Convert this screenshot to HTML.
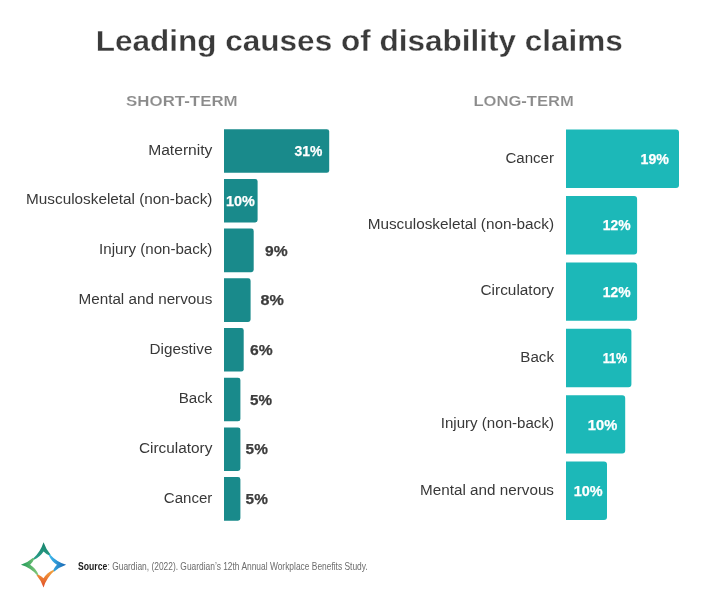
<!DOCTYPE html>
<html><head><meta charset="utf-8"><title>Leading causes of disability claims</title>
<style>
html,body{margin:0;padding:0;background:#fff;}
svg{display:block;}
text{font-family:"Liberation Sans",sans-serif;}
.t{font-weight:bold;fill:#3a3a3a;font-size:30.4px;stroke:#fff;stroke-width:0.3px;}
.h{font-weight:bold;fill:#8b8b8b;font-size:15.3px;stroke:#fff;stroke-width:0.15px;}
.l{fill:#383838;font-size:14px;text-anchor:end;}
.vw{fill:#fff;font-weight:bold;font-size:14.4px;stroke:#fff;stroke-width:0.25px;}
.vd{fill:#3c3c3c;font-weight:bold;font-size:14.4px;stroke:#3c3c3c;stroke-width:0.25px;}
.s{fill:#6c6c6c;font-size:10.3px;}
</style></head><body>
<svg width="720" height="603" viewBox="0 0 720 603">
<rect width="720" height="603" fill="#fff"/>
<text class="t" x="95.8" y="51.2" textLength="527" lengthAdjust="spacingAndGlyphs">Leading causes of disability claims</text>
<text class="h" x="126.1" y="106.1" textLength="111.6" lengthAdjust="spacingAndGlyphs">SHORT-TERM</text>
<text class="h" x="473.4" y="106.1" textLength="100.5" lengthAdjust="spacingAndGlyphs">LONG-TERM</text>
<path fill="#198a8b" d="M224 129.2H326.8a2.4 2.4 0 0 1 2.4 2.4V170.4a2.4 2.4 0 0 1 -2.4 2.4H224z"/>
<text class="l" x="212.4" y="154.7" textLength="64.2" lengthAdjust="spacingAndGlyphs">Maternity</text>
<text class="vw" x="294.5" y="156.2" textLength="27.8" lengthAdjust="spacingAndGlyphs">31%</text>
<path fill="#198a8b" d="M224 178.9H255.2a2.4 2.4 0 0 1 2.4 2.4V220.1a2.4 2.4 0 0 1 -2.4 2.4H224z"/>
<text class="l" x="212.4" y="204.4" textLength="186.3" lengthAdjust="spacingAndGlyphs">Musculoskeletal (non-back)</text>
<text class="vw" x="226.1" y="205.9" textLength="28.8" lengthAdjust="spacingAndGlyphs">10%</text>
<path fill="#198a8b" d="M224 228.6H251.3a2.4 2.4 0 0 1 2.4 2.4V269.8a2.4 2.4 0 0 1 -2.4 2.4H224z"/>
<text class="l" x="212.4" y="254.1" textLength="113.3" lengthAdjust="spacingAndGlyphs">Injury (non-back)</text>
<text class="vd" x="265.0" y="255.6" textLength="22.6" lengthAdjust="spacingAndGlyphs">9%</text>
<path fill="#198a8b" d="M224 278.3H248.2a2.4 2.4 0 0 1 2.4 2.4V319.5a2.4 2.4 0 0 1 -2.4 2.4H224z"/>
<text class="l" x="212.4" y="303.8" textLength="133.9" lengthAdjust="spacingAndGlyphs">Mental and nervous</text>
<text class="vd" x="260.5" y="305.3" textLength="23.3" lengthAdjust="spacingAndGlyphs">8%</text>
<path fill="#198a8b" d="M224 328.0H241.3a2.4 2.4 0 0 1 2.4 2.4V369.2a2.4 2.4 0 0 1 -2.4 2.4H224z"/>
<text class="l" x="212.4" y="353.5" textLength="62.9" lengthAdjust="spacingAndGlyphs">Digestive</text>
<text class="vd" x="250.1" y="355.0" textLength="22.6" lengthAdjust="spacingAndGlyphs">6%</text>
<path fill="#198a8b" d="M224 377.7H238.0a2.4 2.4 0 0 1 2.4 2.4V418.9a2.4 2.4 0 0 1 -2.4 2.4H224z"/>
<text class="l" x="212.4" y="403.2" textLength="33.7" lengthAdjust="spacingAndGlyphs">Back</text>
<text class="vd" x="250.1" y="404.7" textLength="22.0" lengthAdjust="spacingAndGlyphs">5%</text>
<path fill="#198a8b" d="M224 427.4H238.0a2.4 2.4 0 0 1 2.4 2.4V468.6a2.4 2.4 0 0 1 -2.4 2.4H224z"/>
<text class="l" x="212.4" y="452.9" textLength="73.5" lengthAdjust="spacingAndGlyphs">Circulatory</text>
<text class="vd" x="245.6" y="454.4" textLength="22.2" lengthAdjust="spacingAndGlyphs">5%</text>
<path fill="#198a8b" d="M224 477.1H238.0a2.4 2.4 0 0 1 2.4 2.4V518.3a2.4 2.4 0 0 1 -2.4 2.4H224z"/>
<text class="l" x="212.4" y="502.6" textLength="48.6" lengthAdjust="spacingAndGlyphs">Cancer</text>
<text class="vd" x="245.6" y="504.1" textLength="22.2" lengthAdjust="spacingAndGlyphs">5%</text>
<path fill="#1cb8b8" d="M566 129.6H676.0a3 3 0 0 1 3 3V185.0a3 3 0 0 1 -3 3H566z"/>
<text class="l" x="554" y="162.5" textLength="48.6" lengthAdjust="spacingAndGlyphs">Cancer</text>
<text class="vw" x="640.5" y="164.0" textLength="28.4" lengthAdjust="spacingAndGlyphs">19%</text>
<path fill="#1cb8b8" d="M566 196.0H634.1a3 3 0 0 1 3 3V251.4a3 3 0 0 1 -3 3H566z"/>
<text class="l" x="554" y="228.9" textLength="186.3" lengthAdjust="spacingAndGlyphs">Musculoskeletal (non-back)</text>
<text class="vw" x="602.7" y="230.4" textLength="27.8" lengthAdjust="spacingAndGlyphs">12%</text>
<path fill="#1cb8b8" d="M566 262.4H634.1a3 3 0 0 1 3 3V317.8a3 3 0 0 1 -3 3H566z"/>
<text class="l" x="554" y="295.3" textLength="73.5" lengthAdjust="spacingAndGlyphs">Circulatory</text>
<text class="vw" x="602.7" y="296.8" textLength="27.8" lengthAdjust="spacingAndGlyphs">12%</text>
<path fill="#1cb8b8" d="M566 328.8H628.4a3 3 0 0 1 3 3V384.2a3 3 0 0 1 -3 3H566z"/>
<text class="l" x="554" y="361.7" textLength="33.7" lengthAdjust="spacingAndGlyphs">Back</text>
<text class="vw" x="602.7" y="363.2" textLength="24.5" lengthAdjust="spacingAndGlyphs">11%</text>
<path fill="#1cb8b8" d="M566 395.2H622.2a3 3 0 0 1 3 3V450.6a3 3 0 0 1 -3 3H566z"/>
<text class="l" x="554" y="428.1" textLength="113.3" lengthAdjust="spacingAndGlyphs">Injury (non-back)</text>
<text class="vw" x="587.8" y="429.6" textLength="29.4" lengthAdjust="spacingAndGlyphs">10%</text>
<path fill="#1cb8b8" d="M566 461.6H604.0a3 3 0 0 1 3 3V517.0a3 3 0 0 1 -3 3H566z"/>
<text class="l" x="554" y="494.5" textLength="133.9" lengthAdjust="spacingAndGlyphs">Mental and nervous</text>
<text class="vw" x="573.8" y="496.0" textLength="28.9" lengthAdjust="spacingAndGlyphs">10%</text>
<defs>
<linearGradient id="gt" x1="0" y1="0" x2="0" y2="1"><stop offset="0" stop-color="#17836c"/><stop offset="1" stop-color="#2b9f8a"/></linearGradient>
<linearGradient id="gr" x1="0" y1="0" x2="0" y2="1"><stop offset="0" stop-color="#1763b0"/><stop offset="1" stop-color="#3fbdf0"/></linearGradient>
<linearGradient id="gb" x1="0" y1="0" x2="0" y2="1"><stop offset="0" stop-color="#e04a28"/><stop offset="1" stop-color="#f3a43c"/></linearGradient>
<linearGradient id="gl" x1="0" y1="0" x2="0" y2="1"><stop offset="0" stop-color="#1c9858"/><stop offset="1" stop-color="#86c97a"/></linearGradient>
</defs>
<path transform="translate(43.55 564.85) rotate(0)" fill="url(#gt)" d="M-10.6 -6.2Q-3.2 -12.6 0 -22.6Q2.4 -15.6 7.0 -10.4L5.9 -9.3Q2.0 -11.2 0 -13.4Q-3.6 -7.8 -9.6 -5.2Z"/>
<path transform="translate(43.55 564.85) rotate(90)" fill="url(#gr)" d="M-10.6 -6.2Q-3.2 -12.6 0 -22.6Q2.4 -15.6 7.0 -10.4L5.9 -9.3Q2.0 -11.2 0 -13.4Q-3.6 -7.8 -9.6 -5.2Z"/>
<path transform="translate(43.55 564.85) rotate(180)" fill="url(#gb)" d="M-10.6 -6.2Q-3.2 -12.6 0 -22.6Q2.4 -15.6 7.0 -10.4L5.9 -9.3Q2.0 -11.2 0 -13.4Q-3.6 -7.8 -9.6 -5.2Z"/>
<path transform="translate(43.55 564.85) rotate(270)" fill="url(#gl)" d="M-10.6 -6.2Q-3.2 -12.6 0 -22.6Q2.4 -15.6 7.0 -10.4L5.9 -9.3Q2.0 -11.2 0 -13.4Q-3.6 -7.8 -9.6 -5.2Z"/>
<text class="s" x="78" y="569.6" textLength="29.3" lengthAdjust="spacingAndGlyphs" style="font-weight:bold;fill:#1c1c1c">Source</text>
<text class="s" x="107.5" y="569.6" textLength="260.2" lengthAdjust="spacingAndGlyphs">: Guardian, (2022). Guardian’s 12th Annual Workplace Benefits Study.</text>
</svg>
</body></html>
